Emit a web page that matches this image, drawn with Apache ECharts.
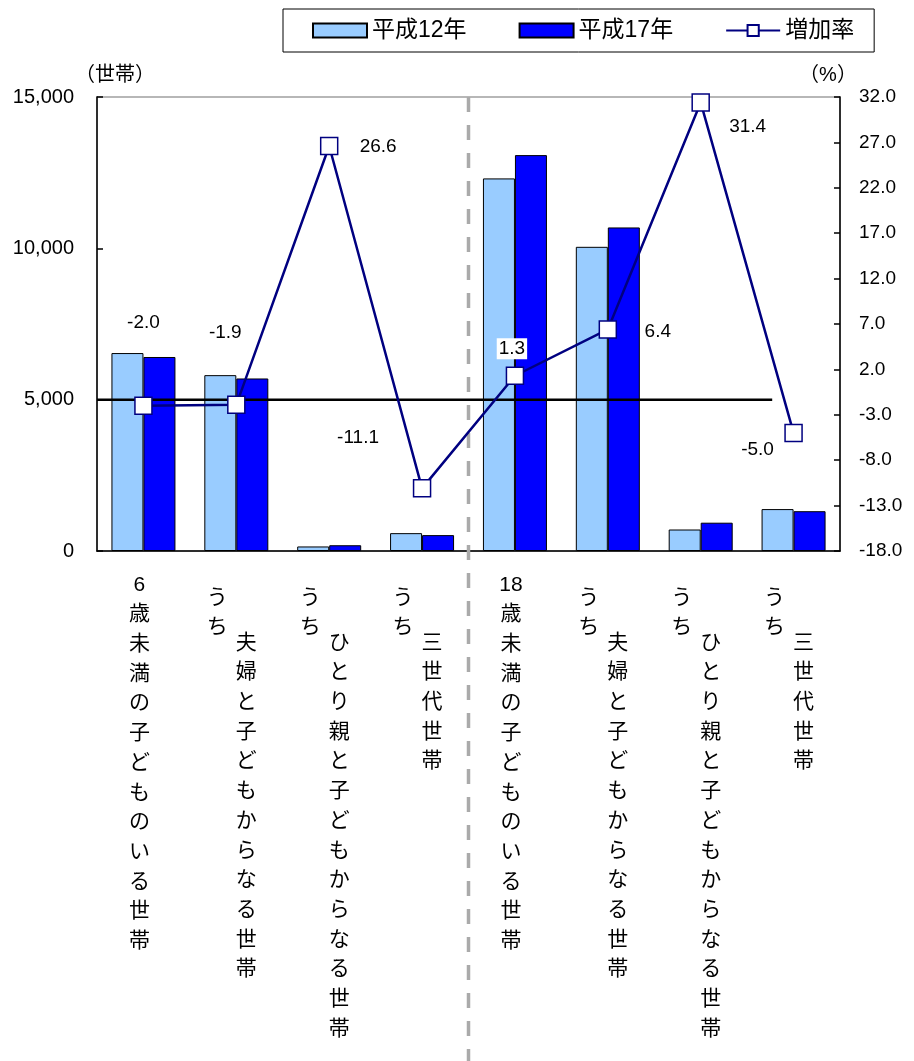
<!DOCTYPE html>
<html>
<head>
<meta charset="utf-8">
<script src="https://cdn.jsdelivr.net/npm/echarts@6/dist/echarts.min.js"></script>
<style>
  html, body { margin: 0; padding: 0; background: #fff; }
  #chart { width: 914px; height: 1061px; }
</style>
</head>
<body>
<div id="chart"></div>
<script>
// 子どものいる世帯の推移（平成12年・平成17年）と増加率
const CATEGORIES = [
  '6歳未満の子どものいる世帯', '夫婦と子どもからなる世帯', 'ひとり親と子どもからなる世帯', '三世代世帯',
  '18歳未満の子どものいる世帯', '夫婦と子どもからなる世帯', 'ひとり親と子どもからなる世帯', '三世代世帯'
];
const PREFIXES = ['', 'うち', 'うち', 'うち', '', 'うち', 'うち', 'うち'];
const H12 = [6540, 5810, 150, 590, 12310, 10050, 710, 1385];   // 平成12年（世帯）
const H17 = [6410, 5700, 190, 525, 13080, 10690, 935, 1315];   // 平成17年（世帯）
const RATE = [-2.0, -1.9, 26.6, -11.1, 1.3, 6.4, 31.4, -5.0];  // 増加率（%）
const LEFT_TICKS = [0, 5000, 10000, 15000];
const RIGHT_TICKS = [-18, -13, -8, -3, 2, 7, 12, 17, 22, 27, 32];

// 増加率ラベルの位置調整（マーカー中心からのずれ, px）
const RATE_LABEL_OFFSET = [[0, -83], [-11, -72], [49, 1], [-64, -51], [-3, -27], [50, 2], [47, 24], [-36, 17]];
// 6歳未満／18歳未満の区切り（カテゴリ境界の位置）と基準線
const SEPARATOR_AT = 4;
const GUIDE_VALUE = 5000;
const GUIDE_END = 7.27;

const FONT = "'Liberation Sans', 'Noto Sans CJK JP', sans-serif";
const ROW = 29.7;

function toColumn(s) {
  return s.match(/[0-9]+|./g).join('\n');
}

const chart = echarts.init(document.getElementById('chart'), null, { renderer: 'canvas' });

const rateData = RATE.map((v, i) => {
  const item = {
    value: v,
    label: { offset: RATE_LABEL_OFFSET[i] }
  };
  if (i === 4) {
    item.label.backgroundColor = '#fff';
    item.label.padding = [1, 2];
  }
  return item;
});

const option = {
  animation: false,
  backgroundColor: '#fff',
  textStyle: { fontFamily: FONT, color: '#000' },
  legend: {
    data: [
      { name: '平成12年', icon: 'rect' },
      { name: '平成17年', icon: 'rect' },
      { name: '増加率' }
    ],
    left: 283,
    top: 9,
    padding: [10, 20, 10, 29],
    itemGap: 52,
    itemWidth: 54,
    itemHeight: 14,
    borderColor: '#000',
    borderWidth: 1,
    textStyle: { fontFamily: FONT, fontSize: 23, color: '#000' }
  },
  grid: {
    left: 97, right: 74, top: 97, bottom: 510,
    show: true, borderColor: '#a0a0a0', borderWidth: 1.5
  },
  xAxis: [
    {
      type: 'category',
      data: CATEGORIES,
      position: 'bottom',
      axisLine: { lineStyle: { color: '#000', width: 1.5 } },
      axisTick: { inside: true, length: 7, lineStyle: { color: '#000', width: 1.5 } },
      axisLabel: {
        interval: 0,
        margin: 19,
        fontFamily: FONT,
        formatter: (v, i) => PREFIXES[i]
          ? '{sp| }\n{b|' + toColumn(v) + '}'
          : '{a|' + toColumn(v) + '}',
        rich: {
          a: { fontSize: 21, lineHeight: ROW, color: '#000', fontFamily: FONT, padding: [0, 8, 0, 0] },
          b: { fontSize: 21, lineHeight: ROW, color: '#000', fontFamily: FONT, padding: [0, 0, 0, 20] },
          sp: { fontSize: 10, lineHeight: 58 }
        }
      }
    },
    {
      type: 'category',
      data: CATEGORIES,
      position: 'bottom',
      axisLine: { show: false },
      axisTick: { show: false },
      axisLabel: {
        interval: 0,
        margin: 32,
        fontFamily: FONT,
        formatter: (v, i) => PREFIXES[i] ? '{u|' + toColumn(PREFIXES[i]) + '}' : '',
        rich: {
          u: { fontSize: 21, lineHeight: ROW, color: '#000', fontFamily: FONT, padding: [0, 38, 0, 0] }
        }
      }
    },
    {
      type: 'value',
      min: 0,
      max: CATEGORIES.length,
      show: false
    }
  ],
  yAxis: [
    {
      type: 'value',
      position: 'left',
      min: LEFT_TICKS[0],
      max: LEFT_TICKS[LEFT_TICKS.length - 1],
      interval: LEFT_TICKS[1] - LEFT_TICKS[0],
      name: '（世帯）',
      nameLocation: 'end',
      nameGap: 12,
      nameTextStyle: { fontFamily: FONT, fontSize: 20, color: '#000', align: 'center', padding: [0, 0, 0, 36] },
      axisLine: { show: true, lineStyle: { color: '#000', width: 1.5 } },
      axisTick: { show: true, inside: true, length: 6, lineStyle: { color: '#000', width: 1.5 } },
      splitLine: { show: false },
      axisLabel: {
        margin: 23,
        fontFamily: FONT,
        fontSize: 20,
        color: '#000',
        formatter: v => v.toLocaleString('en-US')
      }
    },
    {
      type: 'value',
      position: 'right',
      min: RIGHT_TICKS[0],
      max: RIGHT_TICKS[RIGHT_TICKS.length - 1],
      name: '（%）',
      nameLocation: 'end',
      nameGap: 12,
      nameTextStyle: { fontFamily: FONT, fontSize: 20, color: '#000', align: 'center', padding: [0, 24, 0, 0] },
      axisLine: { show: true, lineStyle: { color: '#000', width: 1.5 } },
      axisTick: { show: true, inside: true, length: 6, customValues: RIGHT_TICKS, lineStyle: { color: '#000', width: 1.5 } },
      splitLine: { show: false },
      axisLabel: {
        margin: 19,
        fontFamily: FONT,
        fontSize: 19,
        color: '#000',
        customValues: RIGHT_TICKS,
        formatter: v => v.toFixed(1)
      }
    }
  ],
  series: [
    {
      name: '平成12年',
      type: 'bar',
      xAxisIndex: 0,
      yAxisIndex: 0,
      data: H12,
      barWidth: 32,
      barGap: '0%',
      itemStyle: { color: '#99CCFF', borderColor: '#000', borderWidth: 1 },
      z: 2
    },
    {
      name: '平成17年',
      type: 'bar',
      xAxisIndex: 0,
      yAxisIndex: 0,
      data: H17,
      barWidth: 32,
      barGap: '0%',
      itemStyle: { color: '#0000FF', borderColor: '#000', borderWidth: 1 },
      z: 2
    },
    {
      name: 'guide',
      type: 'line',
      xAxisIndex: 2,
      yAxisIndex: 0,
      data: [[0, GUIDE_VALUE], [GUIDE_END, GUIDE_VALUE]],
      symbol: 'none',
      silent: true,
      lineStyle: { color: '#000', width: 2.5 },
      z: 3
    },
    {
      name: 'separator',
      type: 'line',
      xAxisIndex: 2,
      yAxisIndex: 0,
      data: [[SEPARATOR_AT, LEFT_TICKS[LEFT_TICKS.length - 1]], [SEPARATOR_AT, -17000]],
      symbol: 'none',
      silent: true,
      clip: false,
      lineStyle: { color: '#aaaaaa', width: 3.5, type: [15, 13] },
      z: 3
    },
    {
      name: '増加率',
      type: 'line',
      xAxisIndex: 0,
      yAxisIndex: 1,
      data: rateData,
      symbol: 'rect',
      symbolSize: 17,
      showAllSymbol: true,
      lineStyle: { color: '#000080', width: 2.5 },
      itemStyle: { color: '#fff', borderColor: '#000080', borderWidth: 1.5 },
      label: {
        show: true,
        position: 'inside',
        fontFamily: FONT,
        fontSize: 19,
        color: '#000',
        formatter: p => p.value.toFixed(1)
      },
      z: 5
    }
  ]
};

chart.setOption(option);
</script>
</body>
</html>
